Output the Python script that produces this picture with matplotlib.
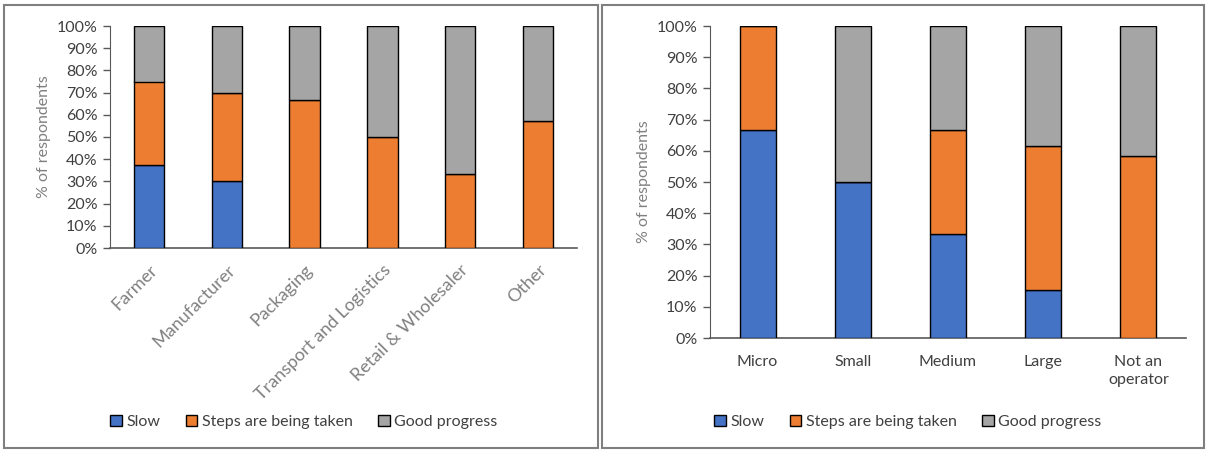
import matplotlib
matplotlib.use("Agg")
import matplotlib.pyplot as plt
from matplotlib.patches import Rectangle, Patch
import numpy as np

plt.rcParams['font.family'] = ['Lato', 'DejaVu Sans']

# Respondents by sector
sectors = ["Farmer", "Manufacturer", "Packaging", "Transport and Logistics",
           "Retail & Wholesaler", "Other"]
sector_slow = [37.5, 30.0, 0.0, 0.0, 0.0, 0.0]
sector_steps = [37.5, 40.0, 66.7, 50.0, 33.3, 57.1]
sector_good = [25.0, 30.0, 33.3, 50.0, 66.7, 42.9]

# Respondents by business size
sizes = ["Micro", "Small", "Medium", "Large", "Not an\noperator"]
size_slow = [66.7, 50.0, 33.3, 15.4, 0.0]
size_steps = [33.3, 0.0, 33.3, 46.2, 58.3]
size_good = [0.0, 50.0, 33.3, 38.5, 41.7]

series_names = ["Slow", "Steps are being taken", "Good progress"]
colors = ["#4472C4", "#ED7D31", "#A5A5A5"]

W, H = 1207, 451
fig = plt.figure(figsize=(W / 100, H / 100), dpi=100)


def px_axes(x0, y0, x1, y1):
    return fig.add_axes([x0 / W, 1 - y1 / H, (x1 - x0) / W, (y1 - y0) / H])


def stacked(ax, cats, slow, steps, good, width, label_color, rot):
    x = np.arange(len(cats))
    bottom = np.zeros(len(cats))
    for vals, c in zip([slow, steps, good], colors):
        vals = np.array(vals)
        ax.bar(x, vals, width, bottom=bottom, color=c, edgecolor="black",
               linewidth=1.0, zorder=3)
        bottom += vals
    ax.set_xlim(-0.5, len(cats) - 0.5)
    ax.set_ylim(0, 100)
    ax.set_yticks(np.arange(0, 101, 10))
    ax.set_yticklabels([f"{v}%" for v in range(0, 101, 10)])
    for s in ["top", "right"]:
        ax.spines[s].set_visible(False)
    ax.spines["left"].set_color("#595959")
    ax.spines["bottom"].set_color("#595959")
    ax.spines["bottom"].set_linewidth(1.2)
    ax.tick_params(axis="y", length=5, width=1, color="#595959",
                   labelsize=11.5, labelcolor="#404040", pad=4)
    ax.set_xticks(x)
    if rot:
        ax.tick_params(axis="x", length=0, labelsize=13,
                       labelcolor=label_color, pad=10)
        ax.set_xticklabels(cats, rotation=45, ha="right", va="top",
                           rotation_mode="anchor")
    else:
        ax.tick_params(axis="x", length=0, labelsize=11.5,
                       labelcolor=label_color, pad=12)
        ax.set_xticklabels(cats, linespacing=1.4)
    ax.set_ylabel("% of respondents", fontsize=11.5, color="#808080",
                  labelpad=4)


ax1 = px_axes(110, 26, 577, 248)
stacked(ax1, sectors, sector_slow, sector_steps, sector_good, 0.39,
        "#808080", True)

ax2 = px_axes(710, 26, 1186, 338)
stacked(ax2, sizes, size_slow, size_steps, size_good, 0.38, "#404040", False)

handles = [Patch(facecolor=c, edgecolor="black", linewidth=1.0) for c in colors]
for cx in (304, 908):
    fig.legend(handles, series_names, loc="center",
               bbox_to_anchor=(cx / W, 1 - 422 / H), ncol=3, frameon=False,
               fontsize=11.5, handlelength=0.7, handleheight=0.7,
               handletextpad=0.3, columnspacing=1.6, labelcolor="#404040")

# Panel frames
for x0, x1 in ((4, 598), (602, 1204)):
    fig.patches.append(Rectangle((x0 / W, 1 - 448 / H), (x1 - x0) / W,
                                 (448 - 5) / H, transform=fig.transFigure,
                                 fill=False, edgecolor="#7f7f7f",
                                 linewidth=1.5))

fig.savefig("out.png", dpi=100)
